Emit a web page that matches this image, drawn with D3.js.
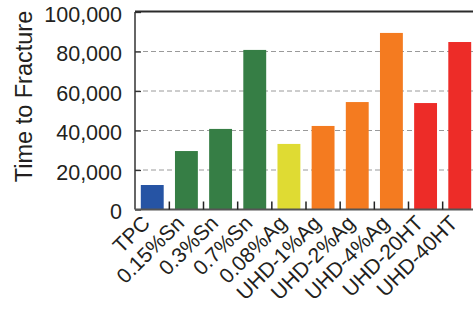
<!DOCTYPE html>
<html lang="en">
<head>
    <meta charset="UTF-8">
    <title>Time to Fracture</title>
    <script src="https://d3js.org/d3.v7.min.js"></script>
</head>
<body>
    <div id="chart"></div>

    <script>
        // Data
        const categories = ['TPC', '0.15%Sn', '0.3%Sn', '0.7%Sn', '0.08%Ag', 'UHD-1%Ag', 'UHD-2%Ag', 'UHD-4%Ag', 'UHD-20HT', 'UHD-40HT'];
        const values = [12400, 29600, 40800, 80800, 33200, 42300, 54400, 89400, 53900, 84800];
        const groups = ['TPC', 'Sn', 'Sn', 'Sn', 'Ag', 'UHD', 'UHD', 'UHD', 'HT', 'HT'];
        const yTicks = [0, 20000, 40000, 60000, 80000, 100000];

        const width = 473;
        const height = 309;
        const margin = { top: 12, right: -4, bottom: 99.5, left: 135 };

        const svg = d3.select('#chart')
            .append('svg')
            .attr('width', width)
            .attr('height', height);

        const x = d3.scaleBand()
            .domain(categories)
            .range([margin.left, width - margin.right])
            .paddingInner(0.33)
            .paddingOuter(0.17);

        const y = d3.scaleLinear()
            .domain([0, 100000])
            .range([height - margin.bottom, margin.top]);

        const color = d3.scaleOrdinal()
            .domain(['TPC', 'Sn', 'Ag', 'UHD', 'HT'])
            .range(['#2654a4', '#367e45', '#dfdb33', '#f47b20', '#ed2c28']);

        const fmt = d3.format(',');

        // grid lines
        svg.append('g')
            .selectAll('line')
            .data(yTicks.filter(d => d > 0 && d < 100000))
            .enter()
            .append('line')
            .attr('x1', margin.left)
            .attr('x2', width)
            .attr('y1', d => y(d))
            .attr('y2', d => y(d))
            .attr('stroke', '#9a9a9a')
            .attr('stroke-width', 1)
            .attr('stroke-dasharray', '5,3');

        // bars
        svg.append('g')
            .selectAll('rect')
            .data(values)
            .enter()
            .append('rect')
            .attr('x', (d, i) => x(categories[i]))
            .attr('y', d => y(d))
            .attr('width', x.bandwidth())
            .attr('height', d => y(0) - y(d))
            .attr('fill', (d, i) => color(groups[i]));

        // y axis, ticks pointing inward
        const yAxis = svg.append('g')
            .attr('transform', `translate(${margin.left},0)`)
            .call(d3.axisRight(y).tickValues(yTicks).tickSize(6).tickFormat(''));
        yAxis.select('.domain').remove();
        yAxis.selectAll('line').attr('stroke', '#333').attr('stroke-width', 1.3);

        svg.append('line')
            .attr('x1', margin.left)
            .attr('x2', margin.left)
            .attr('y1', y(100000))
            .attr('y2', y(0))
            .attr('stroke', '#333')
            .attr('stroke-width', 1.5);

        svg.append('line')
            .attr('x1', margin.left)
            .attr('x2', width)
            .attr('y1', y(100000) - 0.5)
            .attr('y2', y(100000) - 0.5)
            .attr('stroke', '#2b2b2b')
            .attr('stroke-width', 2);

        svg.append('line')
            .attr('x1', margin.left)
            .attr('x2', width)
            .attr('y1', y(0))
            .attr('y2', y(0))
            .attr('stroke', '#555')
            .attr('stroke-width', 2);

        svg.append('g')
            .selectAll('text')
            .data(yTicks)
            .enter()
            .append('text')
            .attr('x', 122)
            .attr('y', d => y(d) + 9.5)
            .attr('text-anchor', 'end')
            .attr('font-size', 21.5)
            .attr('fill', '#231f20')
            .text(d => fmt(d));

        // x ticks between bars
        const step = x.step();
        svg.append('g')
            .selectAll('line')
            .data(categories.slice(1))
            .enter()
            .append('line')
            .attr('x1', d => x(d) - step * x.paddingInner() / 2)
            .attr('x2', d => x(d) - step * x.paddingInner() / 2)
            .attr('y1', y(0) - 8)
            .attr('y2', y(0))
            .attr('stroke', '#222')
            .attr('stroke-width', 1.5);

        // x labels
        svg.append('g')
            .selectAll('text')
            .data(categories)
            .enter()
            .append('text')
            .attr('transform', d => `translate(${x(d) + x.bandwidth() / 2 - 1},${y(0) + 15}) rotate(-45)`)
            .attr('text-anchor', 'end')
            .attr('font-size', 21)
            .attr('fill', '#231f20')
            .text(d => d);

        // y axis title
        svg.append('text')
            .attr('transform', `translate(32,${(10 + 183) / 2}) rotate(-90)`)
            .attr('text-anchor', 'middle')
            .attr('font-size', 23.5)
            .attr('fill', '#231f20')
            .text('Time to Fracture');
    </script>
</body>
<style>
    body {
        margin: 0;
        font-family: 'Liberation Sans', Arial, sans-serif;
    }
    svg {
        display: block;
    }
</style>
</html>
